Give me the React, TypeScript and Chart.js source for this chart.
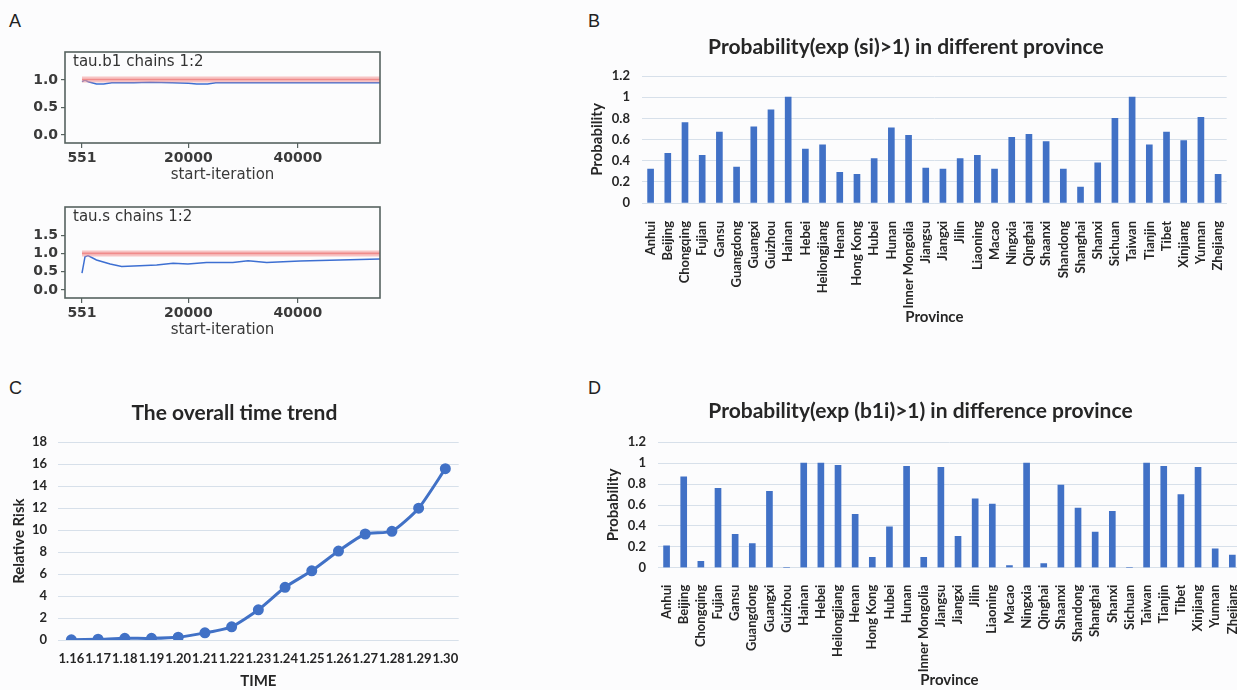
import React, { useEffect, useRef } from "react";
import { Chart, registerables } from "chart.js";
Chart.register(...registerables);

// ---------- data ----------
const provinces = [
  "Anhui", "Beijing", "Chongqing", "Fujian", "Gansu", "Guangdong", "Guangxi", "Guizhou",
  "Hainan", "Hebei", "Heilongjiang", "Henan", "Hong Kong", "Hubei", "Hunan", "Inner Mongolia",
  "Jiangsu", "Jiangxi", "Jilin", "Liaoning", "Macao", "Ningxia", "Qinghai", "Shaanxi",
  "Shandong", "Shanghai", "Shanxi", "Sichuan", "Taiwan", "Tianjin", "Tibet", "Xinjiang",
  "Yunnan", "Zhejiang",
];
const probSi = [
  0.32, 0.47, 0.76, 0.45, 0.67, 0.34, 0.72, 0.88,
  1.0, 0.51, 0.55, 0.29, 0.27, 0.42, 0.71, 0.64,
  0.33, 0.32, 0.42, 0.45, 0.32, 0.62, 0.65, 0.58,
  0.32, 0.15, 0.38, 0.8, 1.0, 0.55, 0.67, 0.59,
  0.81, 0.27,
];
const probB1i = [
  0.21, 0.87, 0.06, 0.76, 0.32, 0.23, 0.73, 0.0,
  1.0, 1.0, 0.98, 0.51, 0.1, 0.39, 0.97, 0.1,
  0.96, 0.3, 0.66, 0.61, 0.02, 1.0, 0.04, 0.79,
  0.57, 0.34, 0.54, 0.0, 1.0, 0.97, 0.7, 0.96,
  0.18, 0.12,
];
const probTicks = [0, 0.2, 0.4, 0.6, 0.8, 1, 1.2];

const timeLabels = ["1.16", "1.17", "1.18", "1.19", "1.20", "1.21", "1.22", "1.23", "1.24", "1.25", "1.26", "1.27", "1.28", "1.29", "1.30"];
const relativeRisk = [0.02, 0.07, 0.15, 0.15, 0.25, 0.65, 1.2, 2.75, 4.8, 6.3, 8.1, 9.65, 9.9, 12.0, 15.6];

const iterTicks = [551, 20000, 40000];

const tauB1Iter = [551, 1100, 1700, 3200, 4500, 6000, 10000, 13000, 17000, 20000, 21500, 23500, 25000, 30000, 40000, 50000, 55000];
const tauB1Median = [0.97, 1.0, 0.97, 0.93, 0.93, 0.95, 0.95, 0.96, 0.95, 0.94, 0.93, 0.93, 0.95, 0.95, 0.95, 0.95, 0.95];
const tauB1UpperIter = [551, 20000, 40000, 55000];
const tauB1Upper = [1.01, 1.01, 1.01, 1.01];
const tauB1Ticks = [0, 0.5, 1];

const tauSIter = [551, 1100, 1650, 3200, 5700, 7800, 11100, 14200, 17200, 19900, 23300, 28100, 30900, 34300, 37300, 40400, 42200, 47700, 55000];
const tauSMedian = [0.46, 0.91, 0.94, 0.82, 0.71, 0.64, 0.66, 0.68, 0.73, 0.71, 0.75, 0.75, 0.8, 0.75, 0.77, 0.79, 0.8, 0.82, 0.85];
const tauSUpperIter = [551, 20000, 40000, 55000];
const tauSUpper = [1.0, 1.0, 1.0, 1.0];
const tauSTicks = [0, 0.5, 1, 1.5];

// ---------- styles ----------
const XL_FONT = "Lato, 'Open Sans', sans-serif";
const R_FONT = "'DejaVu Sans', sans-serif";
const TEXT = "#262626";
const GRID = "#d7e0ea";
const BLUE = "#4171c6";

const framePlugin = {
  id: "frame",
  afterDraw(chart: any) {
    const { ctx, chartArea } = chart;
    const opts = chart.options.plugins.frame || {};
    ctx.save();
    ctx.strokeStyle = "#56625f";
    ctx.lineWidth = 1.6;
    ctx.strokeRect(chartArea.left, chartArea.top, chartArea.right - chartArea.left, chartArea.bottom - chartArea.top);
    if (opts.text) {
      ctx.fillStyle = "#333";
      ctx.font = "15px " + R_FONT;
      ctx.textBaseline = "middle";
      ctx.textAlign = "left";
      ctx.fillText(opts.text, chartArea.left + 8, chartArea.top + 10);
    }
    ctx.restore();
  },
};

function makeTrace(iter: number[], med: number[], upIter: number[], up: number[], yMin: number, yMax: number, yTicks: number[], label: string) {
  const rFont = { family: R_FONT, size: 14, weight: "bold" as const };
  return {
    type: "line",
    data: {
      datasets: [
        { data: upIter.map((x, i) => ({ x, y: up[i] })), borderColor: "rgba(242,150,150,0.55)", borderWidth: 6, pointRadius: 0 },
        { data: upIter.map((x, i) => ({ x, y: up[i] })), borderColor: "#ee7f7f", borderWidth: 1.6, pointRadius: 0 },
        { data: iter.map((x, i) => ({ x, y: med[i] })), borderColor: "#3d6fd2", borderWidth: 1.5, pointRadius: 0 },
      ],
    },
    options: {
      responsive: false,
      animation: false,
      devicePixelRatio: 1,
      layout: { padding: { top: 12, right: 12, left: 0, bottom: 0 } },
      plugins: { legend: { display: false }, tooltip: { enabled: false }, frame: { text: label } },
      scales: {
        x: {
          type: "linear",
          min: -2554,
          max: 55000,
          afterBuildTicks: (s: any) => { s.ticks = iterTicks.map((v) => ({ value: v })); },
          ticks: { callback: (v: any) => String(v), font: rFont, color: "#3a3a3a", padding: 2, maxRotation: 0, autoSkip: false },
          grid: { display: true, drawOnChartArea: false, tickLength: 5, color: "#56625f", lineWidth: 1.2 },
          border: { display: false },
          title: { display: true, text: "start-iteration", font: { family: R_FONT, size: 15 }, color: "#3a3a3a", padding: 1 },
          afterFit: (s: any) => { s.height = 42; s.paddingLeft = 0; s.paddingRight = 0; },
        },
        y: {
          min: yMin,
          max: yMax,
          afterBuildTicks: (s: any) => { s.ticks = yTicks.map((v) => ({ value: v })); },
          ticks: { callback: (v: any) => Number(v).toFixed(1), font: rFont, color: "#3a3a3a", padding: 3 },
          grid: { display: true, drawOnChartArea: false, tickLength: 4, color: "#56625f", lineWidth: 1.2 },
          border: { display: false },
          afterFit: (s: any) => { s.width = 65; },
        },
      },
    },
    plugins: [framePlugin],
  };
}

function makeProb(values: number[], title: string, g: any) {
  return {
    type: "bar",
    data: {
      labels: provinces,
      datasets: [{ data: values, backgroundColor: BLUE, barThickness: 6 }],
    },
    options: {
      responsive: false,
      animation: false,
      devicePixelRatio: 1,
      layout: { padding: { top: 0, left: 0, bottom: 0, right: g.padRight } },
      plugins: {
        legend: { display: false },
        tooltip: { enabled: false },
        title: {
          display: true,
          text: title,
          font: { family: XL_FONT, size: 21, weight: "bold" },
          color: TEXT,
          padding: { top: g.titleTop, bottom: g.titleBottom },
        },
      },
      scales: {
        x: {
          ticks: { font: { family: XL_FONT, size: 13, weight: "bold" }, color: TEXT, minRotation: 90, maxRotation: 90, autoSkip: false, padding: g.labelPad },
          grid: { display: false },
          border: { display: true, color: GRID },
          title: { display: true, text: "Province", font: { family: XL_FONT, size: 15, weight: "bold" }, color: TEXT, padding: { top: 0, bottom: g.provPad } },
          afterFit: (s: any) => { s.height = g.xHeight; s.paddingLeft = 0; s.paddingRight = 0; },
        },
        y: {
          min: 0,
          max: 1.2,
          afterBuildTicks: (s: any) => { s.ticks = probTicks.map((v) => ({ value: v })); },
          ticks: { font: { family: XL_FONT, size: 13, weight: "bold" }, color: TEXT, padding: 12, callback: (v: any) => String(Math.round(Number(v) * 10) / 10) },
          grid: { color: GRID, drawTicks: false, lineWidth: 1 },
          border: { display: false },
          title: { display: true, text: "Probability", font: { family: XL_FONT, size: 15, weight: "bold" }, color: TEXT, padding: g.yTitlePad },
          afterFit: (s: any) => { s.width = g.yWidth; },
        },
      },
    },
  };
}

function makeTrend() {
  return {
    type: "line",
    data: {
      labels: timeLabels,
      datasets: [{
        data: relativeRisk,
        borderColor: BLUE,
        borderWidth: 3,
        pointRadius: 4,
        pointBackgroundColor: BLUE,
        pointBorderColor: BLUE,
        tension: 0.2,
      }],
    },
    options: {
      responsive: false,
      animation: false,
      devicePixelRatio: 1,
      layout: { padding: { top: 0, left: 10, bottom: 0, right: 11.3 } },
      plugins: {
        legend: { display: false },
        tooltip: { enabled: false },
        title: {
          display: true,
          text: "The overall time trend",
          font: { family: XL_FONT, size: 21, weight: "bold" },
          color: TEXT,
          padding: { top: 8.4, bottom: 16.7 },
        },
      },
      scales: {
        x: {
          offset: true,
          ticks: { font: { family: XL_FONT, size: 13, weight: "bold" }, color: TEXT, maxRotation: 0, autoSkip: false, padding: 11 },
          grid: { display: false, drawTicks: false },
          border: { display: false },
          title: { display: true, text: "TIME", font: { family: XL_FONT, size: 15, weight: "bold" }, color: TEXT, padding: 0 },
          afterFit: (s: any) => { s.height = 50; s.paddingLeft = 0; s.paddingRight = 0; },
        },
        y: {
          min: 0,
          max: 18,
          ticks: { stepSize: 2, font: { family: XL_FONT, size: 13, weight: "bold" }, color: TEXT, padding: 11 },
          grid: { color: GRID, drawTicks: false },
          border: { display: false },
          title: { display: true, text: "Relative Risk", font: { family: XL_FONT, size: 15, weight: "bold" }, color: TEXT, padding: 0 },
          afterFit: (s: any) => { s.width = 48; },
        },
      },
    },
  };
}

function ChartBox({ left, top, width, height, make }: any) {
  const ref = useRef<HTMLCanvasElement | null>(null);
  useEffect(() => {
    const chart = new Chart(ref.current as any, make());
    return () => chart.destroy();
  }, []);
  return (
    <canvas
      ref={ref}
      width={width}
      height={height}
      style={{ position: "absolute", left, top, width, height }}
    />
  );
}

function Letter({ x, y, text }: any) {
  return (
    <div style={{ position: "absolute", left: x, top: y, font: "18px 'Liberation Sans', Arial, sans-serif", color: "#222", lineHeight: "18px" }}>
      {text}
    </div>
  );
}

export default function App() {
  const geomB = { padRight: 10.3, titleTop: 6.4, titleBottom: 16.4, labelPad: 10, provPad: 4, xHeight: 127, yTitlePad: 3, yWidth: 57 };
  const geomD = { padRight: 4.1, titleTop: 8.4, titleBottom: 18.7, labelPad: 9, provPad: 1, xHeight: 122.3, yTitlePad: 4, yWidth: 58 };
  return (
    <div style={{ position: "absolute", left: 0, top: 0, width: 1237, height: 690, overflow: "hidden", background: "#fcfcfd" }}>
      <Letter x={9} y={12} text="A" />
      <Letter x={588} y={12} text="B" />
      <Letter x={9} y={379} text="C" />
      <Letter x={588} y={379} text="D" />
      <ChartBox left={0} top={40} width={392} height={145}
        make={() => makeTrace(tauB1Iter, tauB1Median, tauB1UpperIter, tauB1Upper, -0.145, 1.51, tauB1Ticks, "tau.b1 chains 1:2")} />
      <ChartBox left={0} top={195} width={392} height={145}
        make={() => makeTrace(tauSIter, tauSMedian, tauSUpperIter, tauSUpper, -0.22, 2.27, tauSTicks, "tau.s chains 1:2")} />
      <ChartBox left={585} top={28} width={652} height={302}
        make={() => makeProb(probSi, "Probability(exp (si)>1) in different province", geomB)} />
      <ChartBox left={600} top={390} width={645} height={300}
        make={() => makeProb(probB1i, "Probability(exp (b1i)>1) in difference province", geomD)} />
      <ChartBox left={0} top={392} width={470} height={298} make={makeTrend} />
    </div>
  );
}
